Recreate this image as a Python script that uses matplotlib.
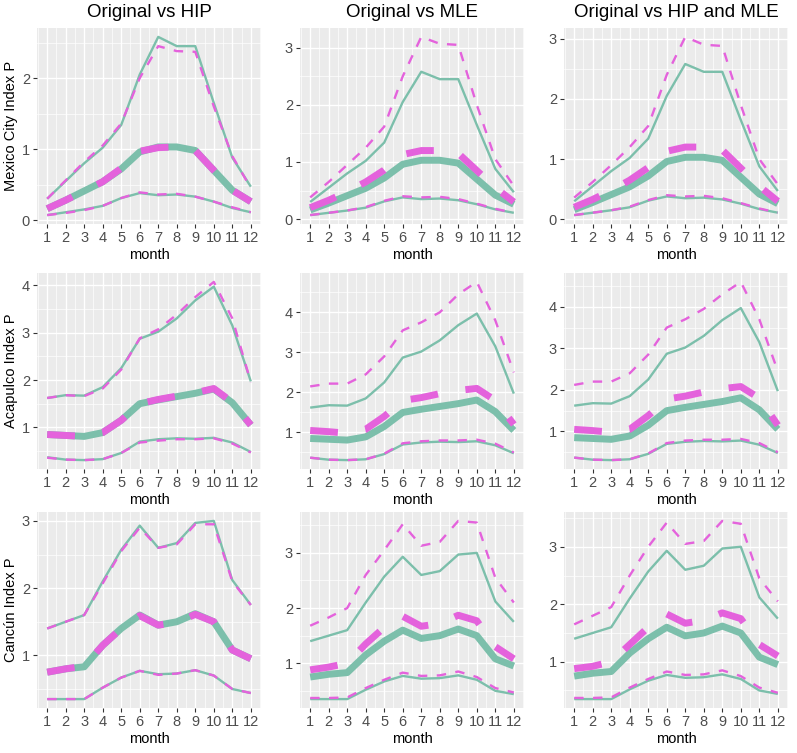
import matplotlib.pyplot as plt
import numpy as np
from matplotlib.ticker import MultipleLocator

# Config
TEAL = "#7CBFAB"
PINK = "#E462DC"
BG = "#EBEBEB"

months = np.arange(1, 13)
col_titles = ["Original vs HIP", "Original vs MLE", "Original vs HIP and MLE"]
row_labels = ["Mexico City Index P", "Acapulco Index P", "Cancún Index P"]

# ---- Mexico City ----
mex_orig_lo = [0.07, 0.11, 0.15, 0.20, 0.31, 0.38, 0.35, 0.36, 0.33, 0.26, 0.17, 0.11]
mex_orig_med = [0.16, 0.28, 0.41, 0.54, 0.72, 0.96, 1.03, 1.03, 0.98, 0.70, 0.42, 0.26]
mex_orig_hi = [0.30, 0.55, 0.80, 1.02, 1.34, 2.05, 2.58, 2.45, 2.45, 1.65, 0.88, 0.47]

mex_hip_lo = [0.07, 0.10, 0.14, 0.20, 0.31, 0.39, 0.36, 0.37, 0.33, 0.26, 0.18, 0.11]
mex_hip_med = [0.16, 0.28, 0.41, 0.54, 0.73, 0.97, 1.02, 1.03, 0.98, 0.70, 0.42, 0.26]
mex_hip_hi = [0.30, 0.56, 0.82, 1.05, 1.36, 2.00, 2.45, 2.38, 2.37, 1.60, 0.90, 0.45]

mex_mle_lo = [0.07, 0.11, 0.15, 0.21, 0.32, 0.40, 0.38, 0.39, 0.35, 0.27, 0.18, 0.11]
mex_mle_med = [0.20, 0.33, 0.48, 0.65, 0.86, 1.13, 1.20, 1.20, 1.15, 0.85, 0.55, 0.30]
mex_mle_hi = [0.38, 0.65, 0.95, 1.25, 1.62, 2.50, 3.19, 3.07, 3.05, 2.00, 1.05, 0.58]

mex_both_lo = [0.07, 0.11, 0.15, 0.21, 0.32, 0.40, 0.38, 0.39, 0.35, 0.27, 0.18, 0.11]
mex_both_med = [0.20, 0.33, 0.48, 0.65, 0.86, 1.13, 1.20, 1.20, 1.15, 0.85, 0.55, 0.30]
mex_both_hi = [0.36, 0.62, 0.90, 1.20, 1.55, 2.40, 3.03, 2.90, 2.88, 1.90, 1.00, 0.58]

# ---- Acapulco ----
aca_orig_lo = [0.37, 0.32, 0.31, 0.33, 0.46, 0.70, 0.75, 0.77, 0.76, 0.78, 0.68, 0.48]
aca_orig_med = [0.85, 0.83, 0.81, 0.89, 1.15, 1.50, 1.58, 1.65, 1.72, 1.81, 1.52, 1.05]
aca_orig_hi = [1.62, 1.68, 1.67, 1.85, 2.25, 2.87, 3.02, 3.30, 3.68, 3.97, 3.15, 1.97]

aca_hip_lo = [0.36, 0.32, 0.31, 0.33, 0.46, 0.68, 0.72, 0.75, 0.75, 0.77, 0.66, 0.47]
aca_hip_med = [0.85, 0.83, 0.81, 0.89, 1.15, 1.50, 1.59, 1.66, 1.73, 1.82, 1.53, 1.05]
aca_hip_hi = [1.62, 1.68, 1.66, 1.82, 2.22, 2.88, 3.07, 3.38, 3.75, 4.07, 3.30, 1.95]

aca_mle_lo = [0.37, 0.32, 0.31, 0.33, 0.47, 0.73, 0.78, 0.80, 0.80, 0.82, 0.72, 0.50]
aca_mle_med = [1.05, 1.02, 0.98, 1.08, 1.40, 1.80, 1.87, 1.97, 2.05, 2.10, 1.80, 1.20]
aca_mle_hi = [2.15, 2.22, 2.22, 2.45, 2.90, 3.55, 3.75, 4.00, 4.45, 4.76, 3.80, 2.50]

aca_both_lo = [0.37, 0.32, 0.31, 0.33, 0.47, 0.72, 0.78, 0.80, 0.80, 0.82, 0.72, 0.50]
aca_both_med = [1.05, 1.02, 0.98, 1.05, 1.38, 1.78, 1.85, 1.95, 2.03, 2.08, 1.80, 1.15]
aca_both_hi = [2.12, 2.20, 2.20, 2.40, 2.85, 3.50, 3.70, 3.95, 4.30, 4.60, 3.70, 2.45]

# ---- Cancun ----
can_orig_lo = [0.35, 0.35, 0.35, 0.52, 0.67, 0.77, 0.72, 0.73, 0.78, 0.70, 0.50, 0.44]
can_orig_med = [0.75, 0.80, 0.83, 1.15, 1.40, 1.60, 1.45, 1.50, 1.62, 1.50, 1.08, 0.95]
can_orig_hi = [1.40, 1.50, 1.60, 2.10, 2.57, 2.93, 2.60, 2.67, 2.97, 3.00, 2.12, 1.75]

can_hip_lo = [0.35, 0.35, 0.35, 0.52, 0.67, 0.77, 0.71, 0.73, 0.78, 0.70, 0.50, 0.44]
can_hip_med = [0.75, 0.80, 0.84, 1.15, 1.40, 1.59, 1.45, 1.49, 1.61, 1.50, 1.08, 0.95]
can_hip_hi = [1.40, 1.50, 1.60, 2.07, 2.55, 2.90, 2.60, 2.65, 2.95, 2.95, 2.10, 1.75]

can_mle_lo = [0.37, 0.37, 0.38, 0.55, 0.70, 0.83, 0.77, 0.78, 0.85, 0.75, 0.55, 0.47]
can_mle_med = [0.88, 0.93, 1.00, 1.35, 1.65, 1.85, 1.67, 1.72, 1.87, 1.77, 1.30, 1.08]
can_mle_hi = [1.68, 1.83, 2.00, 2.60, 3.05, 3.52, 3.13, 3.20, 3.58, 3.55, 2.55, 2.10]

can_both_lo = [0.37, 0.37, 0.38, 0.55, 0.70, 0.83, 0.77, 0.78, 0.85, 0.75, 0.55, 0.46]
can_both_med = [0.88, 0.92, 1.00, 1.30, 1.60, 1.83, 1.67, 1.72, 1.85, 1.75, 1.30, 1.10]
can_both_hi = [1.65, 1.80, 1.95, 2.50, 3.00, 3.42, 3.05, 3.10, 3.45, 3.40, 2.45, 2.05]

original = [
    (mex_orig_lo, mex_orig_med, mex_orig_hi),
    (aca_orig_lo, aca_orig_med, aca_orig_hi),
    (can_orig_lo, can_orig_med, can_orig_hi),
]
estimates = [
    [(mex_hip_lo, mex_hip_med, mex_hip_hi),
     (mex_mle_lo, mex_mle_med, mex_mle_hi),
     (mex_both_lo, mex_both_med, mex_both_hi)],
    [(aca_hip_lo, aca_hip_med, aca_hip_hi),
     (aca_mle_lo, aca_mle_med, aca_mle_hi),
     (aca_both_lo, aca_both_med, aca_both_hi)],
    [(can_hip_lo, can_hip_med, can_hip_hi),
     (can_mle_lo, can_mle_med, can_mle_hi),
     (can_both_lo, can_both_med, can_both_hi)],
]

plt.rcParams['font.family'] = ['Liberation Sans', 'DejaVu Sans']

W, H = 797, 753
fig = plt.figure(figsize=(W / 100, H / 100), dpi=100)

col_left = [37, 300, 564]
row_top = [28, 273, 512]
pw, ph = 224, 196

for r in range(3):
    for c in range(3):
        ax = fig.add_axes([col_left[c] / W, 1 - (row_top[r] + ph) / H, pw / W, ph / H])
        ax.set_facecolor(BG)
        for s in ax.spines.values():
            s.set_visible(False)

        lo, med, hi = original[r]
        elo, emed, ehi = estimates[r][c]

        # Original: solid teal
        ax.plot(months, lo, color=TEAL, lw=1.7, solid_capstyle='butt')
        ax.plot(months, hi, color=TEAL, lw=1.7, solid_capstyle='butt')
        ax.plot(months, med, color=TEAL, lw=5.0, solid_capstyle='butt')

        # Estimate: dashed pink
        ax.plot(months, elo, color=PINK, lw=1.7, dashes=(4, 4), dash_capstyle='butt')
        ax.plot(months, ehi, color=PINK, lw=1.7, dashes=(4, 4), dash_capstyle='butt')
        ax.plot(months, emed, color=PINK, lw=5.0, dashes=(4, 4), dash_capstyle='butt')

        # ggplot-like axis expansion
        allv = np.concatenate([lo, med, hi, elo, emed, ehi])
        vmin, vmax = allv.min(), allv.max()
        pad = 0.05 * (vmax - vmin)
        ax.set_ylim(vmin - pad, vmax + pad)
        ax.set_xlim(1 - 0.55, 12 + 0.55)

        ax.set_xticks(months)
        ax.xaxis.set_minor_locator(MultipleLocator(0.5))
        ax.yaxis.set_major_locator(MultipleLocator(1))
        ax.yaxis.set_minor_locator(MultipleLocator(0.5))
        ax.grid(True, which='major', color='white', lw=1.0)
        ax.grid(True, which='minor', color='white', lw=0.5)
        ax.set_axisbelow(True)
        ax.tick_params(which='major', length=3, width=0.8, color='#333333',
                       labelcolor='#4D4D4D', labelsize=10.5, pad=2)
        ax.tick_params(which='minor', length=0)

        ax.set_xlabel("month", fontsize=10.5, labelpad=2)
        if c == 0:
            ax.set_ylabel(row_labels[r], fontsize=10.5, labelpad=3)
        if r == 0:
            ax.set_title(col_titles[c], fontsize=13.5, pad=8)

fig.savefig("out.png", dpi=100, facecolor='white')
